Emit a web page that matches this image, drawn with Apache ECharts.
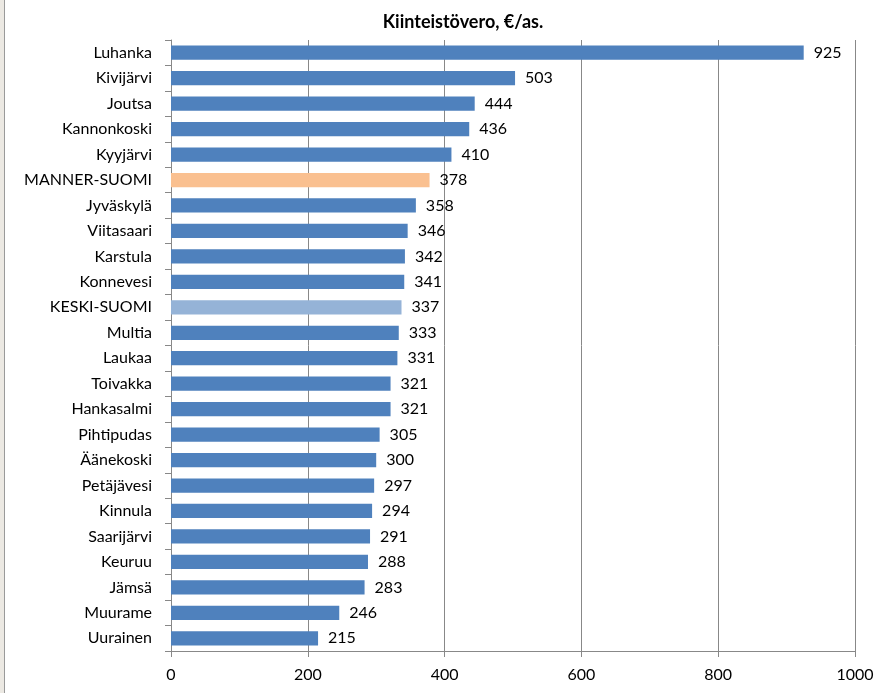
<!DOCTYPE html>
<html><head><meta charset="utf-8">
<script src="https://cdn.jsdelivr.net/npm/echarts@6/dist/echarts.min.js"></script>
<style>html,body{margin:0;padding:0;background:#fff}#c{width:879px;height:693px}</style>
</head><body><div id="c"></div>
<script>
const categories = ["Luhanka","Kivijärvi","Joutsa","Kannonkoski","Kyyjärvi","MANNER-SUOMI","Jyväskylä","Viitasaari","Karstula","Konnevesi","KESKI-SUOMI","Multia","Laukaa","Toivakka","Hankasalmi","Pihtipudas","Äänekoski","Petäjävesi","Kinnula","Saarijärvi","Keuruu","Jämsä","Muurame","Uurainen"];
const values = [925,503,444,436,410,378,358,346,342,341,337,333,331,321,321,305,300,297,294,291,288,283,246,215];
const xTicks = [0,200,400,600,800,1000];
const titleText = "Kiinteistövero, €/as.";

const colorFor = name => name === "MANNER-SUOMI" ? "#FAC090" : (name === "KESKI-SUOMI" ? "#95B3D7" : "#4F81BD");
const font = "Lato, 'Open Sans', sans-serif";
const chart = echarts.init(document.getElementById('c'), null, {renderer:'canvas'});
chart.setOption({
  animation:false,
  backgroundColor:'#fff',
  title:{text:titleText,left:458,top:8,textAlign:'center',textStyle:{fontFamily:font,fontWeight:'bold',fontSize:18,color:'#000'}},
  graphic:[
    {type:'rect',shape:{x:0,y:0,width:4,height:693},style:{fill:'#ECE9E3'},silent:true},
    {type:'rect',shape:{x:4,y:0,width:1,height:693},style:{fill:'#9a9a9a'},silent:true}
  ],
  grid:{left:171,right:24,top:40,bottom:42},
  xAxis:{type:'value',min:0,max:1000,interval:200,
    axisLine:{show:true,lineStyle:{color:'#888'}},
    axisTick:{show:true,length:6,lineStyle:{color:'#888'}},
    axisLabel:{fontFamily:font,fontSize:16,color:'#000',margin:16,formatter:v=>xTicks.includes(v)?String(v):''},
    splitLine:{show:true,lineStyle:{color:'#888',width:1}}},
  yAxis:{type:'category',inverse:true,data:categories,
    axisLine:{show:true,lineStyle:{color:'#888'}},
    axisTick:{show:true,length:6,lineStyle:{color:'#888'}},
    axisLabel:{fontFamily:font,fontSize:16,color:'#000',margin:19}},
  series:[{type:'bar',barCategoryGap:'44%',
    data:values.map((v,i)=>({value:v,itemStyle:{color:colorFor(categories[i])}})),
    label:{show:true,position:'right',distance:10,fontFamily:font,fontSize:16,color:'#000'}}]
});
</script></body></html>
